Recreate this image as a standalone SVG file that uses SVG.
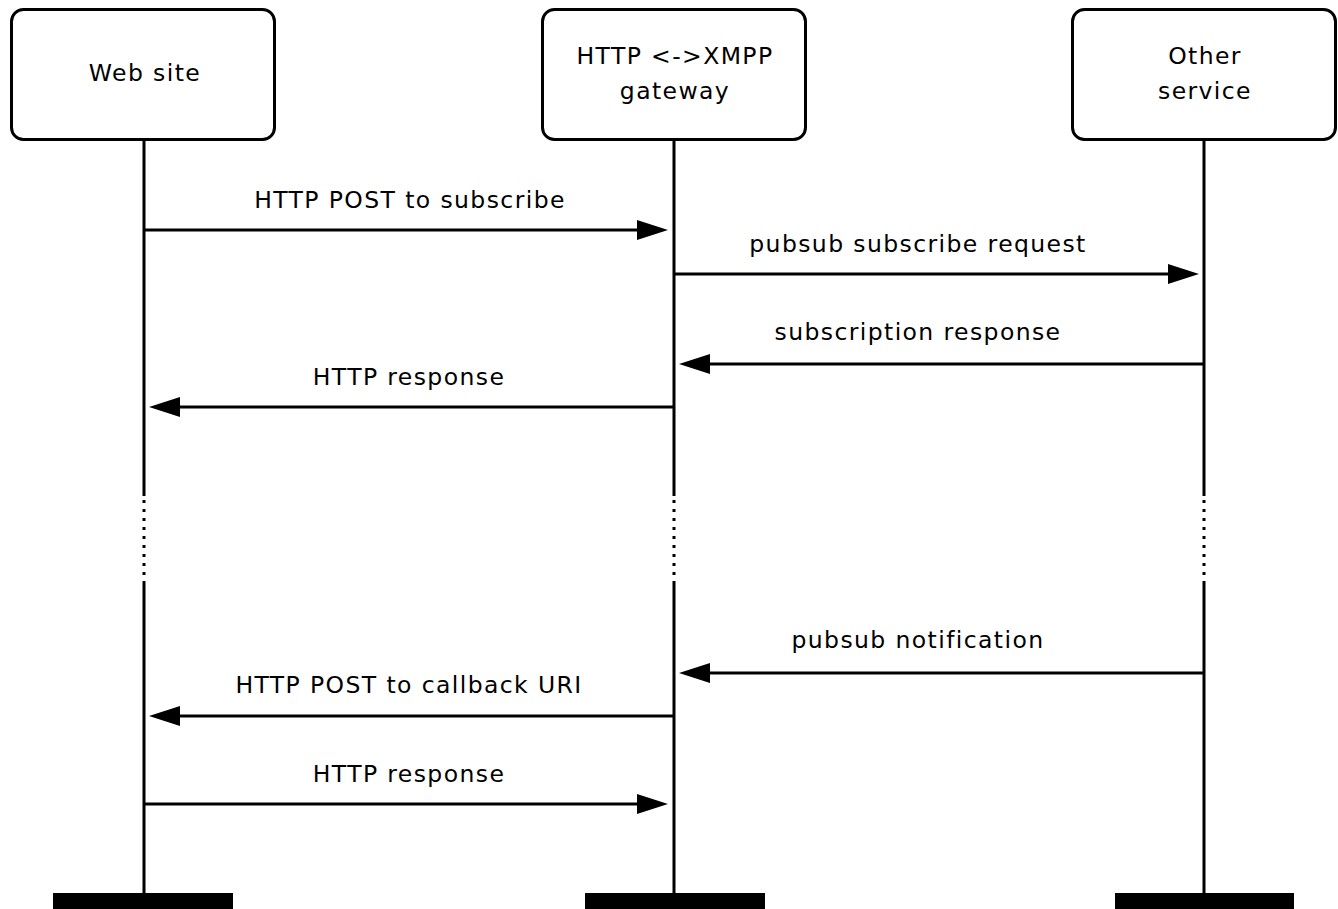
<svg xmlns="http://www.w3.org/2000/svg" width="1338" height="909" viewBox="0 0 1338 909">
<style>
.box{fill:#fff;stroke:#000;stroke-width:3}
.life{stroke:#000;stroke-width:3;fill:none}
.dot{stroke:#000;stroke-width:3;stroke-dasharray:3 6;fill:none}
.msg{stroke:#000;stroke-width:3;fill:none}
.head{fill:#000}
.bar{fill:#000}
text{font-family:"DejaVu Sans",sans-serif;font-size:23.5px;letter-spacing:1.4px;fill:#000;text-anchor:middle}
</style>
<rect width="1338" height="909" fill="#fff"/>
<g id="lifelines">
<path class="life" d="M144 141V496M144 584V893"/>
<path class="dot" d="M144 500V584"/>
<path class="life" d="M674 141V496M674 584V893"/>
<path class="dot" d="M674 500V584"/>
<path class="life" d="M1204 141V496M1204 584V893"/>
<path class="dot" d="M1204 500V584"/>
<rect class="bar" x="53" y="893" width="180" height="16"/>
<rect class="bar" x="585" y="893" width="180" height="16"/>
<rect class="bar" x="1115" y="893" width="179" height="16"/>
</g>
<g id="web-site">
<rect class="box" x="11.5" y="9.5" width="263" height="130" rx="12"/>
<text x="145" y="81">Web site</text>
</g>
<g id="gateway">
<rect class="box" x="542.5" y="9.5" width="263" height="130" rx="12"/>
<text x="675" y="64">HTTP &lt;-&gt;XMPP</text>
<text x="675" y="99">gateway</text>
</g>
<g id="other-service">
<rect class="box" x="1072.5" y="9.5" width="263" height="130" rx="12"/>
<text x="1205" y="64">Other</text>
<text x="1205" y="99">service</text>
</g>
<g id="connectors">
<path class="msg" d="M145 230H640"/>
<path class="head" d="M668 230L637 220V240Z"/>
<text x="410" y="208">HTTP POST to subscribe</text>
<path class="msg" d="M675 274H1170"/>
<path class="head" d="M1199 274L1168 264V284Z"/>
<text x="918" y="252">pubsub subscribe request</text>
<path class="msg" d="M1203 364H708"/>
<path class="head" d="M679 364L710 354V374Z"/>
<text x="918" y="340">subscription response</text>
<path class="msg" d="M673 407H178"/>
<path class="head" d="M149 407L180 397V417Z"/>
<text x="409" y="385">HTTP response</text>
<path class="msg" d="M1203 673H708"/>
<path class="head" d="M679 673L710 663V683Z"/>
<text x="918" y="648">pubsub notification</text>
<path class="msg" d="M673 716H178"/>
<path class="head" d="M149 716L180 706V726Z"/>
<text x="409" y="693">HTTP POST to callback URI</text>
<path class="msg" d="M145 804H640"/>
<path class="head" d="M668 804L637 794V814Z"/>
<text x="409" y="782">HTTP response</text>
</g>
</svg>
